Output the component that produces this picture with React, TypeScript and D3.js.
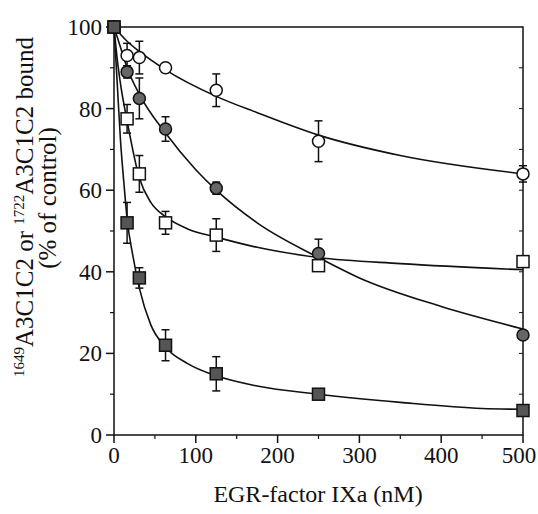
import React from "react";
import * as d3 from "d3";

// concentrations (nM)
const doses = [0, 16, 31, 63, 125, 250, 500];

// measured points (% of control) and error bar half-widths
const openCircle = [100, 93, 92.5, 90, 84.5, 72, 64];
const openCircleErr = [0, 3, 4, 1, 4, 5, 2];
const filledCircle = [100, 89, 82.5, 75, 60.5, 44.5, 24.5];
const filledCircleErr = [0, 1.5, 5, 3, 1.5, 3.5, 1];
const openSquare = [100, 77.5, 64, 52, 49, 41.5, 42.5];
const openSquareErr = [0, 3.5, 4.5, 2.8, 4, 0, 0];
const filledSquare = [100, 52, 38.5, 22, 15, 10, 6];
const filledSquareErr = [0, 5, 2.5, 3.8, 4.2, 0, 0];

// fitted curves: [nM, %]
const openCircleFit = [[0, 100], [16, 96.5], [31, 94], [63, 89.5], [125, 83], [175, 79], [250, 73.5], [350, 68.5], [500, 64]];
const filledCircleFit = [[0, 100], [8, 95], [16, 90], [31, 83.5], [63, 74], [100, 65], [125, 60], [175, 52], [250, 43.5], [300, 38.5], [400, 31.5], [500, 26]];
const openSquareFit = [[0, 100], [4, 92], [8, 86], [16, 77], [31, 63], [45, 57], [63, 53.5], [90, 50.5], [125, 48.5], [175, 46], [250, 43.5], [350, 42], [500, 40.5]];
const filledSquareFit = [[0, 100], [4, 86], [8, 72], [12, 62], [16, 53], [23, 44], [31, 36], [45, 27], [63, 21.5], [90, 17.5], [125, 14.5], [175, 12], [250, 10], [350, 8], [450, 6.5], [500, 6.3]];

const xTicks = [0, 100, 200, 300, 400, 500];
const yTicks = [0, 20, 40, 60, 80, 100];
const xMinor = [50, 150, 250, 350, 450];
const yMinor = [10, 30, 50, 70, 90];
const rightTicks = [10, 20, 30, 40, 50, 60, 70, 80, 90];

const FONT = '"Liberation Serif"';
const INK = "#111";

const left = 114, right = 523, top = 27, bottom = 435;
const x = d3.scaleLinear().domain([0, 500]).range([left, right]);
const y = d3.scaleLinear().domain([0, 100]).range([bottom, top]);

const line = d3
  .line<number[]>()
  .x((d) => x(d[0]))
  .y((d) => y(d[1]))
  .curve(d3.curveMonotoneX);

const series = [
  { vals: openCircle, err: openCircleErr, shape: "circle", fill: "#fff" },
  { vals: filledCircle, err: filledCircleErr, shape: "circle", fill: "#666" },
  { vals: openSquare, err: openSquareErr, shape: "square", fill: "#fff" },
  { vals: filledSquare, err: filledSquareErr, shape: "square", fill: "#555" },
];

const App = () => {
  return (
    <svg
      width={538}
      height={514}
      style={{ position: "absolute", left: 0, top: 0, background: "#fff", display: "block" }}
    >
      <rect x={left} y={top} width={right - left} height={bottom - top} fill="none" stroke={INK} strokeWidth={1.5} />

      {/* bottom axis */}
      {xTicks.map((t) => (
        <g key={"xt" + t}>
          <line x1={x(t)} x2={x(t)} y1={bottom} y2={bottom + 8} stroke={INK} strokeWidth={1.5} />
          {/* last label nudged in so it stays inside the page */}
          <text x={t === 500 ? x(t) - 4 : x(t)} y={bottom + 28} textAnchor="middle" fontSize={23} fill={INK} style={{ fontFamily: FONT }}>
            {t}
          </text>
        </g>
      ))}
      {xMinor.map((t) => (
        <line key={"xm" + t} x1={x(t)} x2={x(t)} y1={bottom} y2={bottom + 4} stroke={INK} strokeWidth={1.2} />
      ))}

      {/* left axis */}
      {yTicks.map((t) => (
        <g key={"yt" + t}>
          <line x1={left - 8} x2={left} y1={y(t)} y2={y(t)} stroke={INK} strokeWidth={1.5} />
          <text x={left - 12} y={y(t) + 8} textAnchor="end" fontSize={23} fill={INK} style={{ fontFamily: FONT }}>
            {t}
          </text>
        </g>
      ))}
      {yMinor.map((t) => (
        <line key={"ym" + t} x1={left - 4} x2={left} y1={y(t)} y2={y(t)} stroke={INK} strokeWidth={1.2} />
      ))}
      {rightTicks.map((t) => (
        <line key={"yr" + t} x1={right - 4} x2={right} y1={y(t)} y2={y(t)} stroke={INK} strokeWidth={1} />
      ))}

      {/* axis titles */}
      <text x={318} y={502} textAnchor="middle" fontSize={24} fill={INK} style={{ fontFamily: FONT }}>
        EGR-factor IXa (nM)
      </text>
      <text transform="translate(33,207) rotate(-90)" textAnchor="middle" fontSize={25} fill={INK} style={{ fontFamily: FONT }}>
        <tspan fontSize={15} dy={-9}>1649</tspan>
        <tspan dy={9}>A3C1C2 or </tspan>
        <tspan fontSize={15} dy={-9}>1722</tspan>
        <tspan dy={9}>A3C1C2 bound</tspan>
      </text>
      <text transform="translate(56,198) rotate(-90)" textAnchor="middle" fontSize={25} fill={INK} style={{ fontFamily: FONT }}>
        (% of control)
      </text>

      {/* fitted curves */}
      {[openCircleFit, filledCircleFit, openSquareFit, filledSquareFit].map((fit, i) => (
        <path key={"fit" + i} d={line(fit) || ""} fill="none" stroke={INK} strokeWidth={1.6} />
      ))}

      {/* data points with error bars */}
      {series.map((s, si) => (
        <g key={"s" + si}>
          {doses.map((d, i) => {
            const v = s.vals[i];
            const e = s.err[i];
            const cx = x(d);
            const cy = y(v);
            return (
              <g key={i}>
                {e > 0 && (
                  <g stroke={INK} strokeWidth={1.5}>
                    <line x1={cx} x2={cx} y1={y(v + e)} y2={y(v - e)} />
                    <line x1={cx - 4} x2={cx + 4} y1={y(v + e)} y2={y(v + e)} />
                    <line x1={cx - 4} x2={cx + 4} y1={y(v - e)} y2={y(v - e)} />
                  </g>
                )}
                {s.shape === "circle" ? (
                  <circle cx={cx} cy={cy} r={6} fill={s.fill} stroke={INK} strokeWidth={1.5} />
                ) : (
                  <rect x={cx - 6} y={cy - 6} width={12} height={12} fill={s.fill} stroke={INK} strokeWidth={1.5} />
                )}
              </g>
            );
          })}
        </g>
      ))}
    </svg>
  );
};

export default App;
